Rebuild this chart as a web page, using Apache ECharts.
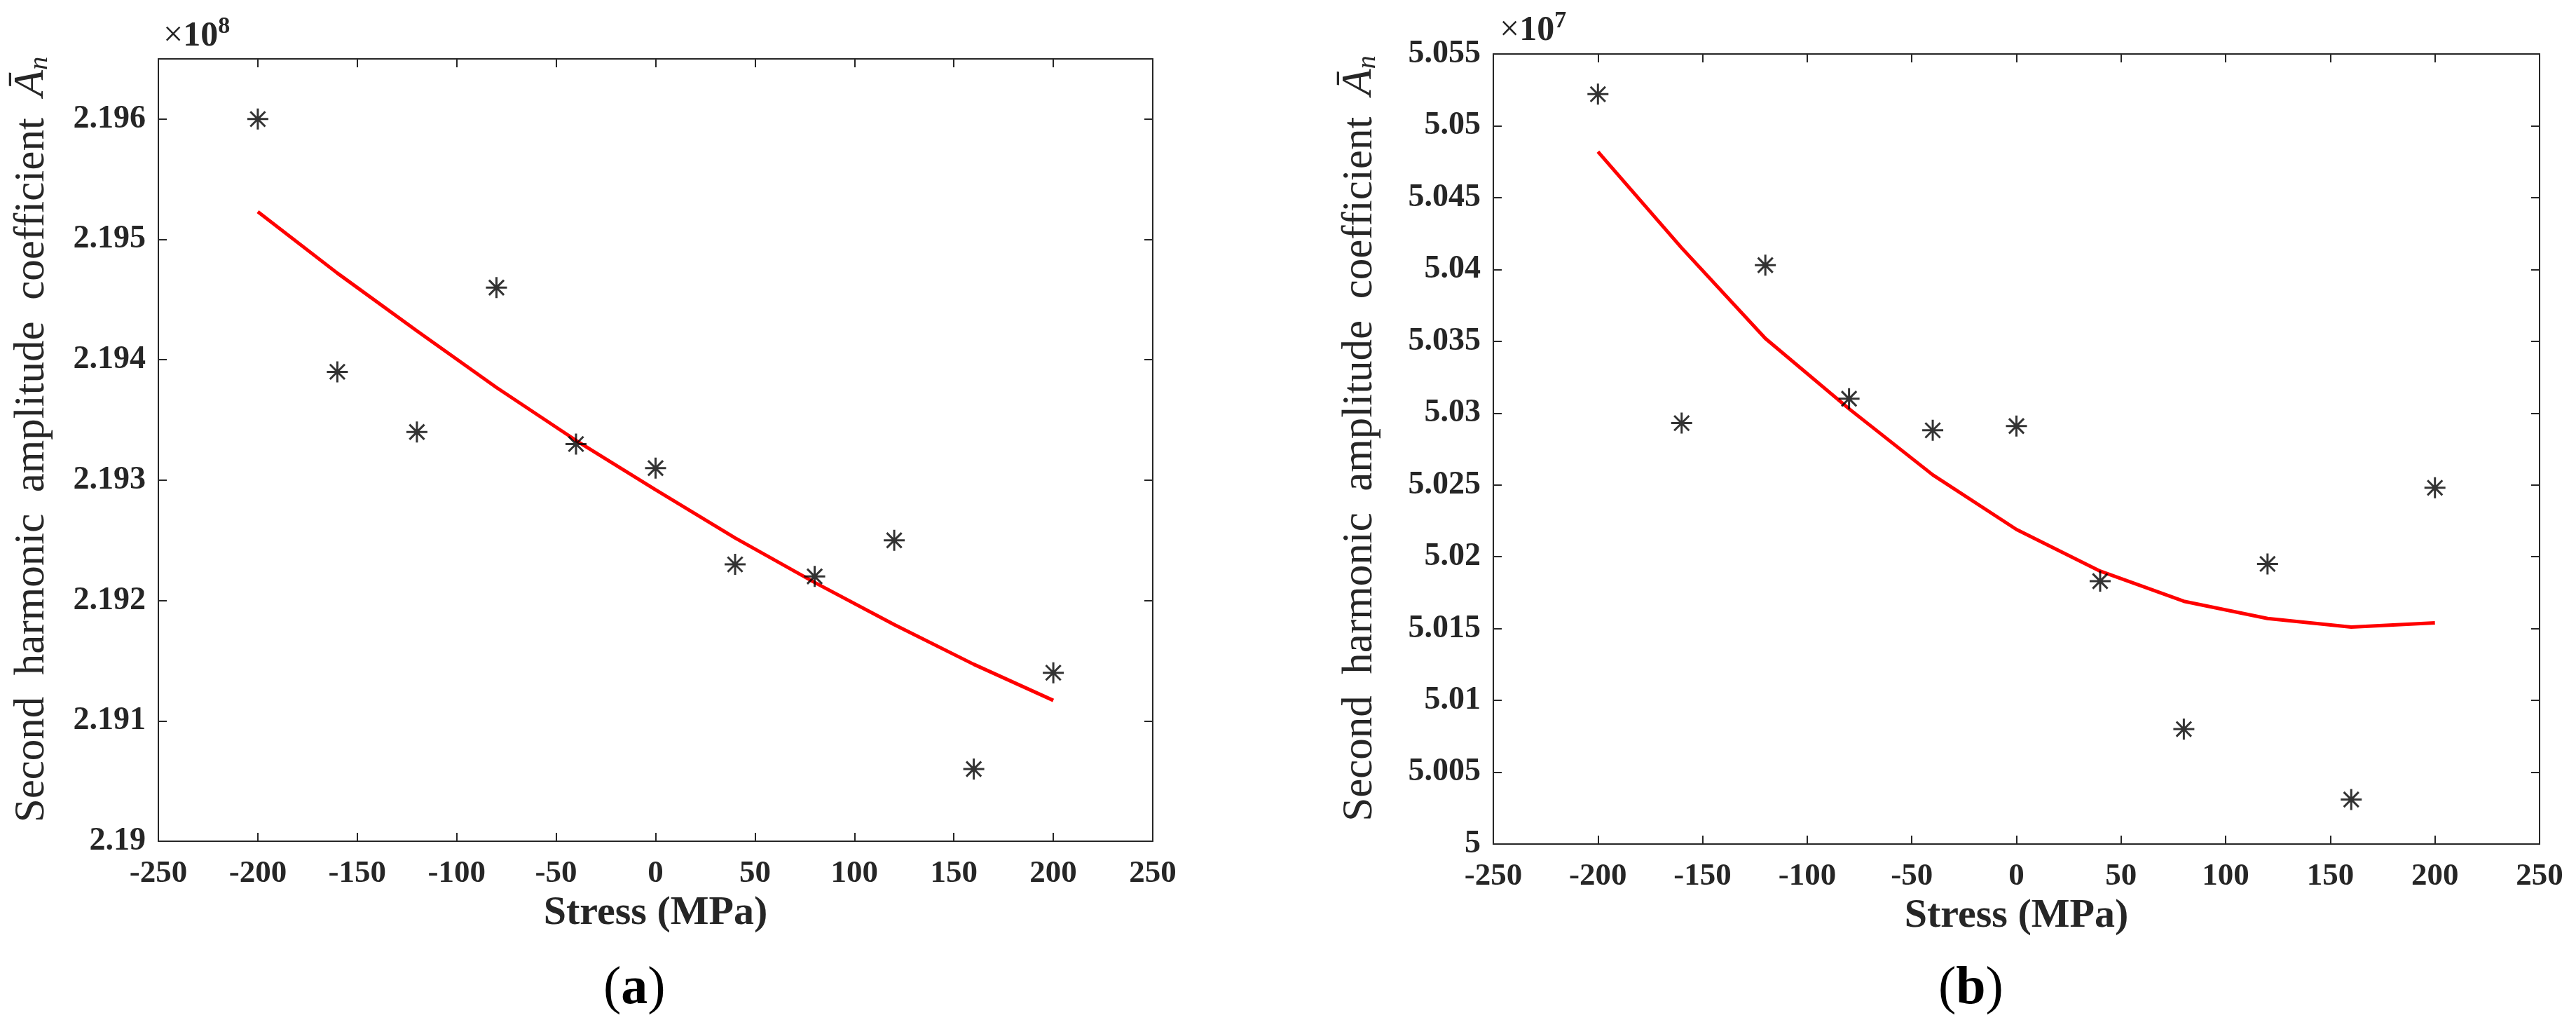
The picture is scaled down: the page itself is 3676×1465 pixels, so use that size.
<!DOCTYPE html>
<html>
<head>
<meta charset="utf-8">
<title>Second harmonic amplitude vs stress</title>
<script src="https://cdn.jsdelivr.net/npm/echarts@6.0.0/dist/echarts.min.js"></script>
<style>
  html, body { margin: 0; padding: 0; background: #fff; }
  #main { width: 3676px; height: 1465px; }
</style>
</head>
<body>
<div id="main"></div>
<script type="text/javascript">
// stress levels (MPa)
var stress = [-200, -160, -120, -80, -40, 0, 40, 80, 120, 160, 200];
var xTicks = [-250, 250, 50]; // min, max, step

// panel (a), values in units of 1e8
var measuredA = [2.1960, 2.1939, 2.1934, 2.1946, 2.1933, 2.1931, 2.1923, 2.1922, 2.1925, 2.1906, 2.1914];
var fittedA = [2.19523, 2.19472, 2.19424, 2.19377, 2.19333, 2.19292, 2.19252, 2.19215, 2.19180, 2.19147, 2.19117];
var yTicksA = [2.19, 2.1965, 0.001];

// panel (b), values in units of 1e7
var measuredB = [5.0522, 5.0293, 5.0403, 5.0310, 5.0288, 5.0291, 5.0183, 5.0080, 5.0195, 5.0031, 5.0248];
var fittedB = [5.0482, 5.0415, 5.0352, 5.0303, 5.0257, 5.0219, 5.0190, 5.0169, 5.0157, 5.0151, 5.0154];
var yTicksB = [5.0, 5.055, 0.005];

var FONT = "Liberation Serif";
var AX = "#262626";
// matlab '*' marker
var STAR = "path://M0,10L20,10M10,0L10,20M2.93,2.93L17.07,17.07M2.93,17.07L17.07,2.93";

function pairs(xs, ys) {
  return xs.map(function (x, i) { return [x, ys[i]]; });
}

function fmt(v) {
  return String(parseFloat(v.toFixed(4)));
}

// box style axes: ticks inside, lines never snap to zero
function axisLine() {
  return { onZero: false, lineStyle: { color: AX, width: 2 } };
}
function axisTick() {
  return { inside: true, length: 12, lineStyle: { color: AX, width: 2 } };
}

function xAxes(gi, gap) {
  return [
    {
      gridIndex: gi, type: "value", position: "bottom",
      min: xTicks[0], max: xTicks[1], interval: xTicks[2],
      axisLine: axisLine(), axisTick: axisTick(), splitLine: { show: false },
      axisLabel: { fontFamily: FONT, fontWeight: "bold", fontSize: 45, color: AX, margin: 24 },
      name: "Stress (MPa)", nameLocation: "middle", nameGap: gap,
      nameTextStyle: { fontFamily: FONT, fontWeight: "bold", fontSize: 58, color: AX }
    },
    {
      gridIndex: gi, type: "value", position: "top",
      min: xTicks[0], max: xTicks[1], interval: xTicks[2],
      axisLine: axisLine(), axisTick: axisTick(), splitLine: { show: false },
      axisLabel: { show: false }
    }
  ];
}

function yAxes(gi, t, gap, showMax) {
  return [
    {
      gridIndex: gi, type: "value", position: "left",
      min: t[0], max: t[1], interval: t[2],
      axisLine: axisLine(), axisTick: axisTick(), splitLine: { show: false },
      axisLabel: {
        fontFamily: FONT, fontWeight: "bold", fontSize: 46, color: AX, margin: 18,
        showMaxLabel: showMax, formatter: fmt
      },
      name: "{t|Second  harmonic  amplitude  coefficient  }{a|Ā}{n|n}",
      nameLocation: "middle", nameRotate: 90, nameGap: gap,
      nameTextStyle: {
        rich: {
          t: { fontFamily: FONT, fontSize: 61, color: AX, verticalAlign: "bottom", lineHeight: 66, padding: [0, 0, 0, 30] },
          a: { fontFamily: FONT, fontStyle: "italic", fontSize: 62, color: AX, verticalAlign: "bottom", lineHeight: 66 },
          n: { fontFamily: FONT, fontStyle: "italic", fontSize: 38, color: AX, verticalAlign: "bottom", lineHeight: 66 }
        }
      }
    },
    {
      gridIndex: gi, type: "value", position: "right",
      min: t[0], max: t[1], interval: t[2],
      axisLine: axisLine(), axisTick: axisTick(), splitLine: { show: false },
      axisLabel: { show: false }
    }
  ];
}

function expTitle(left, top, e) {
  return {
    text: "{m|×}{b|10}{s|" + e + "}", left: left, top: top,
    textStyle: {
      rich: {
        m: { fontFamily: FONT, fontSize: 50, fontWeight: "normal", color: AX, verticalAlign: "bottom", lineHeight: 56 },
        b: { fontFamily: FONT, fontSize: 50, fontWeight: "bold", color: AX, verticalAlign: "bottom", lineHeight: 56 },
        s: { fontFamily: FONT, fontSize: 34, fontWeight: "bold", color: AX, verticalAlign: "top", lineHeight: 56 }
      }
    }
  };
}

function capTitle(left, letter) {
  return {
    text: "{p|(}{b|" + letter + "}{p|)}", left: left, top: 1368,
    textStyle: {
      fontFamily: FONT, fontSize: 74, fontWeight: "normal", color: "#000",
      rich: {
        p: { fontFamily: FONT, fontSize: 76, fontWeight: "normal", color: "#000" },
        b: { fontFamily: FONT, fontSize: 76, fontWeight: "bold", color: "#000" }
      }
    }
  };
}

function scatter(xi, yi, data) {
  return {
    type: "scatter", xAxisIndex: xi, yAxisIndex: yi, data: data,
    symbol: STAR, symbolSize: 30, z: 3,
    itemStyle: { color: "#000", borderColor: "#000", borderWidth: 3 }
  };
}

function fitLine(xi, yi, data) {
  return {
    type: "line", xAxisIndex: xi, yAxisIndex: yi, data: data,
    showSymbol: false, smooth: false, z: 2,
    lineStyle: { color: "#ff0000", width: 5 }
  };
}

var chart = echarts.init(document.getElementById("main"), null, { renderer: "canvas" });

var option = {
  backgroundColor: "#ffffff",
  animation: false,
  title: [
    expTitle(228, 16, "8"),
    expTitle(2135, 8, "7"),
    capTitle(856, "a"),
    capTitle(2761, "b")
  ],
  grid: [
    { left: 226, top: 84, width: 1419, height: 1116 },
    { left: 2131, top: 77, width: 1493, height: 1127 }
  ],
  xAxis: xAxes(0, 72).concat(xAxes(1, 71)),
  yAxis: yAxes(0, yTicksA, 150, false).concat(yAxes(1, yTicksB, 160, true)),
  series: [
    fitLine(0, 0, pairs(stress, fittedA)),
    scatter(0, 0, pairs(stress, measuredA)),
    fitLine(2, 2, pairs(stress, fittedB)),
    scatter(2, 2, pairs(stress, measuredB))
  ]
};

chart.setOption(option);
</script>
</body>
</html>
